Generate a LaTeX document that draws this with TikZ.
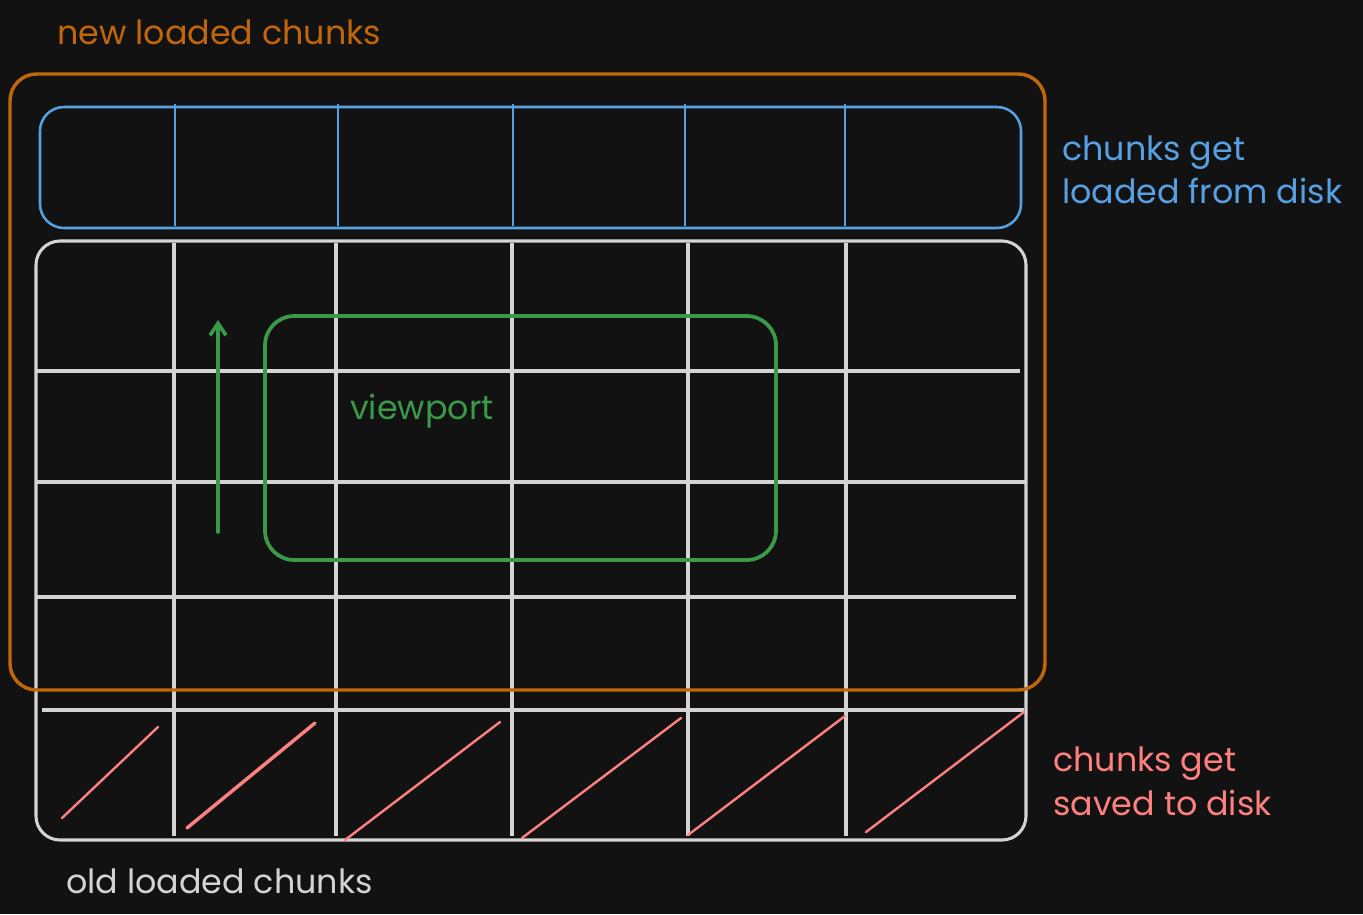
\documentclass[tikz,border=0pt]{standalone}
\usepackage{fontspec}
\usetikzlibrary{arrows.meta}
\setmainfont{Poppins}
\definecolor{bg}{HTML}{121212}
\definecolor{orng}{HTML}{C2660C}
\definecolor{blu}{HTML}{56A0E4}
\definecolor{wht}{HTML}{D4D4D4}
\definecolor{grn}{HTML}{3A9A48}
\definecolor{rd}{HTML}{FF8080}
\tikzset{
  lbl/.style={anchor=base west, inner sep=0pt, font=\fontsize{25}{30}\selectfont},
  gridline/.style={wht, line width=2.3pt},
  slash/.style={rd, line width=1.8pt, line cap=round},
}
\begin{document}
\begin{tikzpicture}[x=0.75pt,y=-0.75pt]
\fill[bg] (0,0) rectangle (1363,914);
\useasboundingbox (0,0) rectangle (1363,914);
% white grid box
\draw[gridline, rounded corners=18pt] (36,241) rectangle (1026,840);
\foreach \x in {174,336,512,688,846} \draw[gridline] (\x,243) -- (\x,836);
\draw[gridline] (36,371) -- (1020,371);
\draw[gridline] (36,482) -- (1026,482);
\draw[gridline] (36,597) -- (1016,597);
\draw[gridline] (42,710) -- (1024,710);
% red slashes
\draw[slash] (62,818) -- (158,727);
\draw[slash, line width=2.6pt] (187,828) -- (315,723);
\draw[slash] (345,840) -- (500,722);
\draw[slash] (522,838) -- (681,718);
\draw[slash] (688,835) -- (845,716);
\draw[slash] (866,832) -- (1024,712);
% blue box
\draw[blu, line width=1.9pt, rounded corners=18pt] (40,107) rectangle (1021,228);
\foreach \x in {175,338,513,685,845} \draw[blu, line width=1.9pt] (\x,104) -- (\x,226);
% orange box
\draw[orng, line width=2.6pt, rounded corners=20pt] (10,74) rectangle (1045,690);
% viewport
\draw[grn, line width=2.8pt, rounded corners=22pt] (265,316) rectangle (776,560);
\coordinate (arrS) at (218,532);
\coordinate (arrE) at (218,320);
\draw[grn, line width=2.8pt, line cap=round, -{Straight Barb[length=9pt,width=12pt]}] (arrS) -- (arrE);
% labels
\node[lbl, text=orng] (tnew) at (57,44) {new loaded chunks};
\node[lbl, text=grn] (tview) at (350,419) {viewport};
\node[lbl, text=blu] (tb1) at (1062,160) {chunks get};
\node[lbl, text=blu] (tb2) at (1062,203) {loaded from disk};
\node[lbl, text=rd] (tr1) at (1053,771) {chunks get};
\node[lbl, text=rd] (tr2) at (1053,815) {saved to disk};
\node[lbl, text=wht] (told) at (66,893) {old loaded chunks};
\end{tikzpicture}
\end{document}
